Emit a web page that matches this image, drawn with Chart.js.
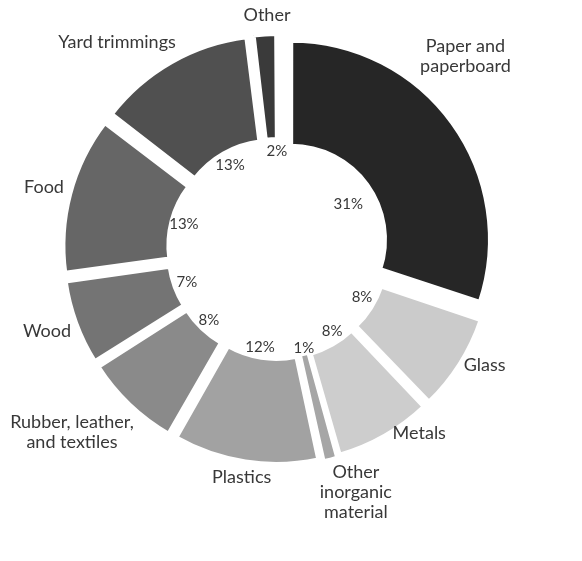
<!DOCTYPE html>
<html>
<head>
<meta charset="utf-8">
<script src="https://cdn.jsdelivr.net/npm/chart.js@4/dist/chart.umd.min.js"></script>
<style>
  html, body { margin: 0; padding: 0; background: #ffffff; }
  canvas { display: block; }
</style>
</head>
<body>
<canvas id="chart" width="582" height="561"></canvas>
<script>
// Municipal solid waste composition by material (percent of total)
const categories = [
  'Paper and paperboard', 'Glass', 'Metals', 'Other inorganic material', 'Plastics',
  'Rubber, leather, and textiles', 'Wood', 'Food', 'Yard trimmings', 'Other'
];
const nameLines = [
  ['Paper and', 'paperboard'], ['Glass'], ['Metals'], ['Other', 'inorganic', 'material'], ['Plastics'],
  ['Rubber, leather,', 'and textiles'], ['Wood'], ['Food'], ['Yard trimmings'], ['Other']
];
const shares = [31, 8, 8, 1, 12, 8, 7, 13, 13, 2];
const shareLabels = shares.map(v => v + '%');

// Slice fills, dark to light greys
const fills = ['#262626', '#cbcbcb', '#cdcdcd', '#a6a6a6', '#a2a2a2', '#8a8a8a', '#747474', '#666666', '#505050', '#3a3a3a'];

// Label placement around each slice: angle nudge (deg) and distance beyond the ring
const nameNudge = [-10, -3, -7.8, -3.8, 0.3, 4.6, 0.6, -0.1, -8.2, 0.8];
const nameGap = [71, 39, 34, 57, 33, 78, 47, 44, 64, 36];
const pctNudge = [3.1, -2.6, -3.7, -0.7, 1.7, 0.5, 0.2, 0, 0, 2.9];
const pctGap = [-9.5, 3.7, 5.2, 9.4, 6.6, 6, 3.8, 4.3, 3.7, 5];

// Explode every slice outward by the same distance
const explode = 17;
const total = shares.reduce((a, b) => a + b, 0);
const sliceOffsets = shares.map(v => {
  const c = v / total * 2 * Math.PI;
  const fix = 1 - Math.sin(Math.min(Math.PI, c));
  return 4 * explode / (1 + fix);
});
// thin white seams; the sliver slice keeps its full width
const seams = shares.map(v => (v / total < 0.015 ? 0 : 4));

const sliceLabels = {
  id: 'sliceLabels',
  afterDatasetsDraw(chart) {
    const ctx = chart.ctx;
    const arcs = chart.getDatasetMeta(0).data;
    ctx.save();
    ctx.fillStyle = '#383838';
    ctx.textAlign = 'center';
    ctx.textBaseline = 'middle';
    arcs.forEach((arc, i) => {
      const p = arc.getProps(['x', 'y', 'startAngle', 'endAngle', 'innerRadius', 'outerRadius'], true);
      const mid = (p.startAngle + p.endAngle) / 2;

      // category name outside the ring
      const a1 = mid + nameNudge[i] * Math.PI / 180;
      const r1 = p.outerRadius + nameGap[i];
      const nx = p.x + Math.cos(a1) * r1;
      const ny = p.y + Math.sin(a1) * r1;
      ctx.font = '18px Lato';
      const lines = nameLines[i];
      const lh = 20;
      lines.forEach((t, k) => {
        ctx.fillText(t, nx, ny + (k - (lines.length - 1) / 2) * lh);
      });

      // percentage inside the hole
      const a2 = mid + pctNudge[i] * Math.PI / 180;
      const r2 = p.innerRadius + pctGap[i];
      ctx.font = '15px Lato';
      ctx.fillText(shareLabels[i], p.x + Math.cos(a2) * r2, p.y + Math.sin(a2) * r2);
    });
    ctx.restore();
  }
};

new Chart(document.getElementById('chart'), {
  type: 'doughnut',
  data: {
    labels: categories,
    datasets: [{
      data: shares,
      backgroundColor: fills,
      borderColor: '#ffffff',
      borderWidth: seams,
      borderJoinStyle: 'miter',
      offset: sliceOffsets,
      hoverOffset: 0
    }]
  },
  options: {
    responsive: false,
    animation: false,
    radius: 198,
    cutout: '47%',
    layout: { padding: { left: 0, right: 26, top: 0, bottom: 63 } },
    plugins: {
      legend: { display: false },
      tooltip: { enabled: false }
    },
    events: []
  },
  plugins: [sliceLabels]
});
</script>
</body>
</html>
